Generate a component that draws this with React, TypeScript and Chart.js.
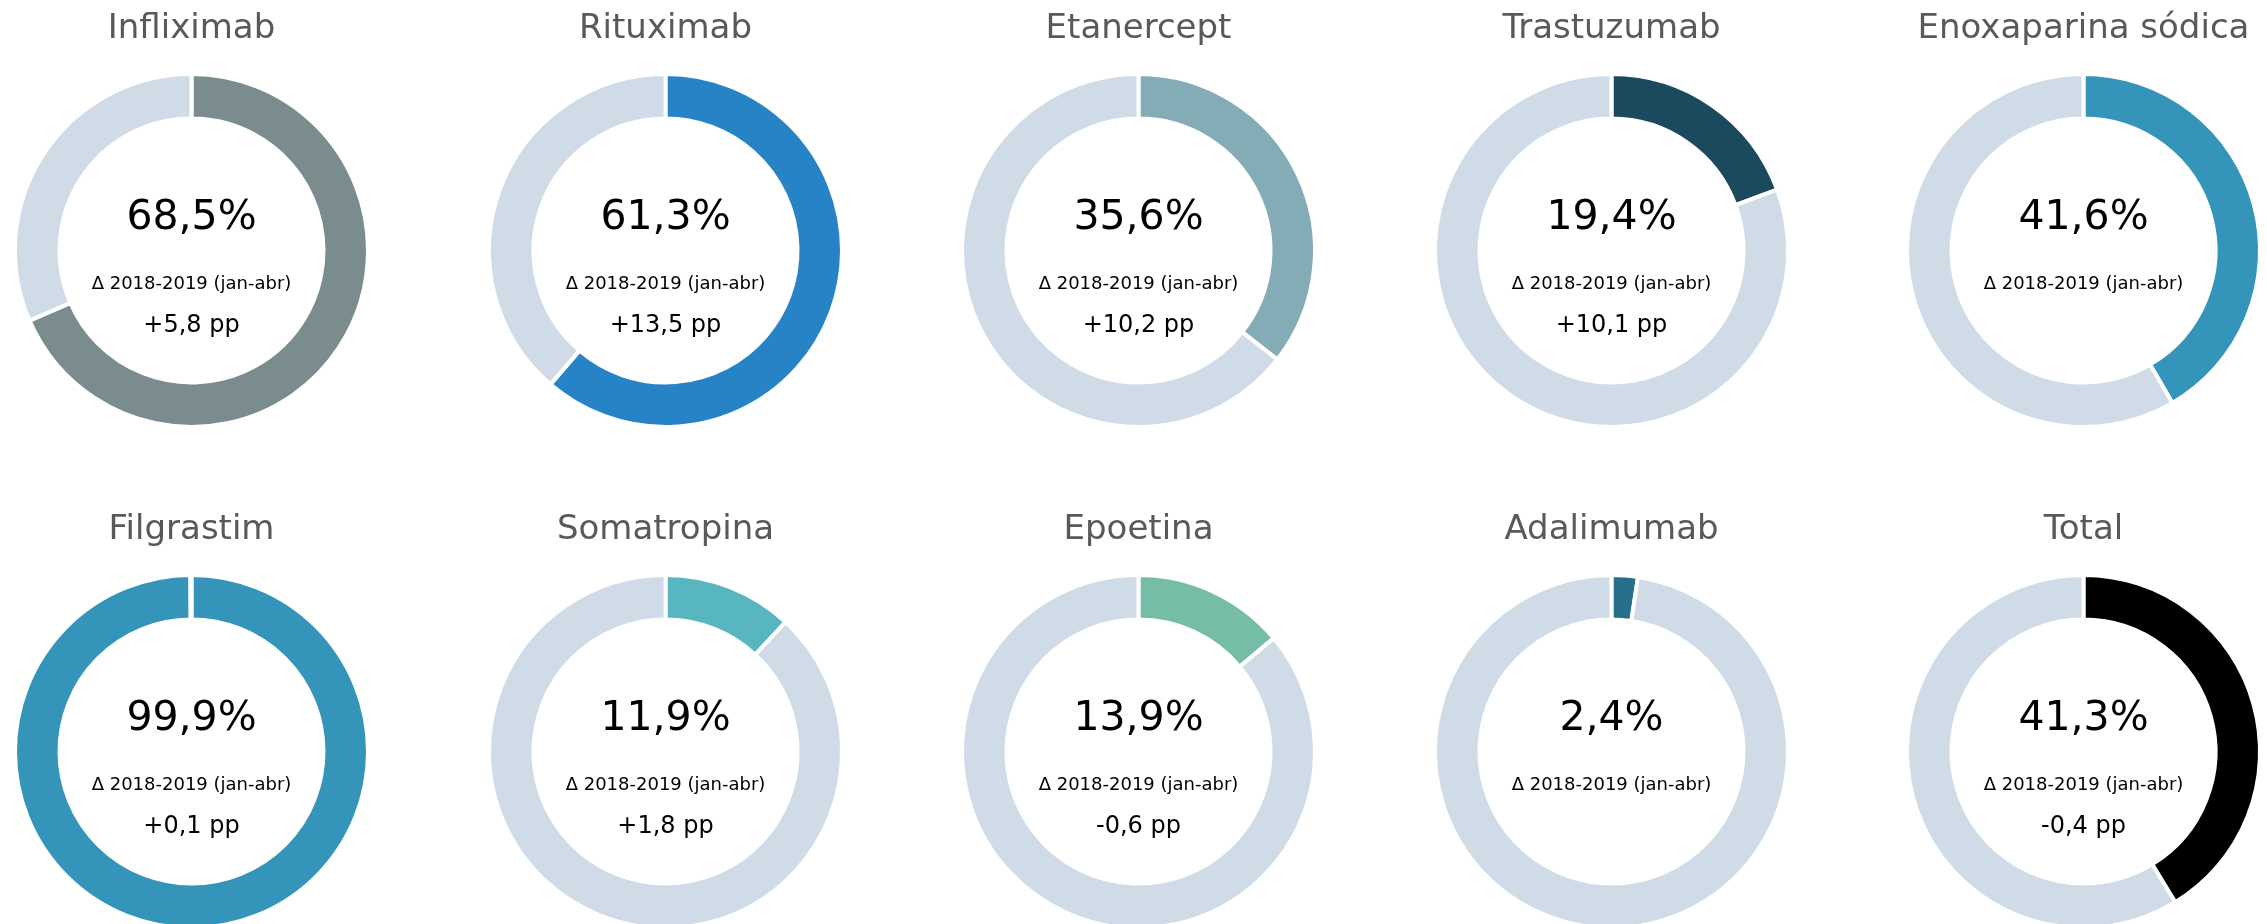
import React, { useEffect, useRef } from "react";
import { Chart, registerables } from "chart.js";

Chart.register(...registerables);

const names = [
  "Infliximab", "Rituximab", "Etanercept", "Trastuzumab", "Enoxaparina sódica",
  "Filgrastim", "Somatropina", "Epoetina", "Adalimumab", "Total",
];
const shares = [68.5, 61.3, 35.6, 19.4, 41.6, 99.9, 11.9, 13.9, 2.4, 41.3];
const deltas: (string | null)[] = [
  "+5,8 pp", "+13,5 pp", "+10,2 pp", "+10,1 pp", null,
  "+0,1 pp", "+1,8 pp", "-0,6 pp", null, "-0,4 pp",
];
const deltaLabel = "Δ 2018-2019 (jan-abr)";
const colors = [
  "#7a8c8e", "#2683c6", "#84acb6", "#1b4a5e", "#3494ba",
  "#3494ba", "#58b6c0", "#75bda7", "#276f8b", "#000000",
];
const restColor = "#cfdbe6";

const FONT = "'DejaVu Sans', sans-serif";
const CELL_W = 473;
const CELL_H = 501;
const OUTER_R = 176.5;
const INNER_R = 132;
const colCenters = [191.5, 665, 1138, 1611, 2083.5];
const rowTops = [0, 500.5];

function fmtPct(v: number) {
  return v.toFixed(1).replace(".", ",") + "%";
}

function Donut({ idx }: { idx: number }) {
  const ref = useRef<HTMLCanvasElement | null>(null);
  useEffect(() => {
    if (!ref.current) return;
    const textPlugin = {
      id: "centerText",
      afterDraw(chart: any) {
        const { ctx, chartArea } = chart;
        const cx = (chartArea.left + chartArea.right) / 2;
        const cy = (chartArea.top + chartArea.bottom) / 2;
        ctx.save();
        ctx.textAlign = "center";
        ctx.textBaseline = "alphabetic";
        ctx.fillStyle = "#595959";
        ctx.font = `34px ${FONT}`;
        ctx.fillText(names[idx], cx, cy - 213);
        ctx.fillStyle = "#000000";
        ctx.font = `41px ${FONT}`;
        ctx.fillText(fmtPct(shares[idx]), cx, cy - 22);
        ctx.font = `18px ${FONT}`;
        ctx.fillText(deltaLabel, cx, cy + 38);
        const d = deltas[idx];
        if (d) {
          ctx.font = `24px ${FONT}`;
          ctx.fillText(d, cx, cy + 81);
        }
        ctx.restore();
      },
    };
    const chart = new Chart(ref.current, {
      type: "doughnut",
      data: {
        labels: [names[idx], "Resto"],
        datasets: [
          {
            data: [shares[idx], +(100 - shares[idx]).toFixed(1)],
            backgroundColor: [colors[idx], restColor],
            borderColor: "#ffffff",
            borderWidth: 4,
            hoverOffset: 0,
          },
        ],
      },
      options: {
        responsive: false,
        animation: false,
        radius: OUTER_R,
        cutout: `${(INNER_R / OUTER_R) * 100}%`,
        layout: { padding: 0 },
        plugins: {
          legend: { display: false },
          tooltip: { enabled: false },
          title: { display: false },
        },
        events: [],
      } as any,
      plugins: [textPlugin],
    });
    return () => chart.destroy();
  }, [idx]);
  const row = Math.floor(idx / 5);
  const col = idx % 5;
  return (
    <canvas
      ref={ref}
      width={CELL_W}
      height={CELL_H}
      style={{
        position: "absolute",
        left: colCenters[col] - CELL_W / 2,
        top: rowTops[row],
        width: CELL_W,
        height: CELL_H,
      }}
    />
  );
}

export default function App() {
  return (
    <div
      style={{
        position: "absolute",
        left: 0,
        top: 0,
        width: 2267,
        height: 924,
        overflow: "hidden",
        background: "#ffffff",
      }}
    >
      {names.map((_, i) => (
        <Donut key={i} idx={i} />
      ))}
    </div>
  );
}
